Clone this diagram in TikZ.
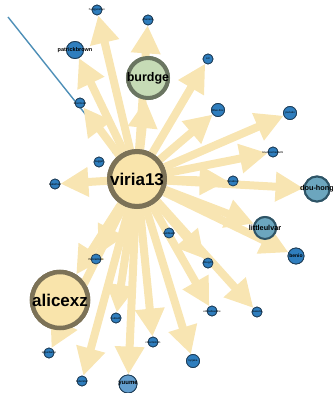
\documentclass[tikz,border=0pt]{standalone}
\usepackage{fontspec}
\setmainfont{Liberation Sans}
\usetikzlibrary{arrows.meta}

\definecolor{edgeyellow}{HTML}{F8E5B2}
\definecolor{hubfill}{HTML}{F9E4AB}
\definecolor{hubrim}{HTML}{7C7257}
\definecolor{greenfill}{HTML}{C6DBB6}
\definecolor{greenrim}{HTML}{6A7561}
\definecolor{tealfill}{HTML}{6CA6BE}
\definecolor{tealrim}{HTML}{2E5466}
\definecolor{nodeblue}{HTML}{2F7EBE}
\definecolor{noderim}{HTML}{1F3E58}
\definecolor{linkblue}{HTML}{4E8FB7}

% labels never widen the circles
\newcommand{\nlabel}[1]{\makebox[0pt]{#1}}

\tikzset{
  yedge/.style={draw=edgeyellow, line width=8pt,
    -{Triangle[length=28pt,width=28pt]}},
  hub/.style={circle, inner sep=0pt, fill=hubfill, draw=hubrim,
    font=\bfseries\fontsize{17}{17}\selectfont},
  greennode/.style={circle, inner sep=0pt, fill=greenfill, draw=greenrim,
    line width=4pt, minimum size=40pt,
    font=\bfseries\fontsize{12.5}{12.5}\selectfont},
  dot/.style={circle, inner sep=0pt, fill=nodeblue, draw=noderim,
    line width=0.8pt, minimum size=10pt,
    font=\fontsize{2.8}{3}\selectfont},
  tealnode/.style={circle, inner sep=0pt, fill=tealfill, draw=tealrim,
    line width=2pt, font=\bfseries\fontsize{7.3}{7.3}\selectfont},
}

\begin{document}
\begin{tikzpicture}[x=1pt,y=-1pt]
\useasboundingbox (0,0) rectangle (332,393);

% central hub
\node[hub, line width=5pt, minimum size=55pt] (v) at (137,179) {};

% the outer nodes
\node[dot] (a1)  at (97,10)  {};
\node[dot] (a2)  at (148,20) {};
\node[dot, minimum size=17pt] (pb) at (75,50) {};
\node[greennode] (bu) at (148,78) {};
\node[dot] (a4)  at (80,103) {};
\node[dot] (a5)  at (99,162) {};
\node[dot] (a6)  at (55,184) {};
\node[dot] (a7)  at (208,59) {};
\node[dot, minimum size=13pt] (a8)  at (218,110) {};
\node[dot, minimum size=13pt] (a9)  at (290,113) {};
\node[dot] (a10) at (273,152) {};
\node[dot] (a11) at (233,181) {};
\node[tealnode, minimum size=25pt] (dh) at (317,189) {};
\node[tealnode, minimum size=22pt] (lu) at (265,228) {};
\node[dot, minimum size=16pt] (be) at (296,256) {};
\node[dot] (a12) at (169,233) {};
\node[dot] (a13) at (96,259) {};
\node[dot] (a14) at (208,263) {};
\node[dot] (a15) at (212,311) {};
\node[dot] (a16) at (257,312) {};
\node[dot, minimum size=13pt] (a17) at (193,361) {};
\node[dot] (a18) at (153,342) {};
\node[dot] (a19) at (116,318) {};
\node[dot, minimum size=18pt, fill=nodeblue!75!white] (yu) at (128,384) {};
\node[dot] (a20) at (82,381) {};
\node[dot] (a21) at (49,353) {};
\node[hub, line width=4.5pt, minimum size=56pt] (ax) at (60,300) {};

% incoming link from outside
\coordinate (src) at (8,17);
\draw[linkblue, line width=1.4pt, -{Triangle[length=6pt,width=6pt]}] (src) -- (v);

% outgoing edges of the hub
\foreach \t in {a1,a2,pb,bu,a4,a6,a7,a8,a9,a10,a11,dh,lu,be,a13,a14,a15,a16,a17,a18,a19,yu,a20,a21,ax}
  \draw[yedge] (v) -- (\t);

% redraw nodes above the edges
\node[hub, line width=5pt, minimum size=55pt] at (v) {\nlabel{viria13}};
\node[hub, line width=4.5pt, minimum size=56pt] at (ax) {\nlabel{alicexz}};
\node[greennode] at (bu) {\nlabel{burdge}};
\node[dot] at (a1)  {\nlabel{hengjunshen}};
\node[dot] at (a2)  {\nlabel{dhanesh}};
\node[dot, minimum size=17pt, font=\bfseries\fontsize{5.5}{5.5}\selectfont] at (pb) {\nlabel{patrickbrown}};
\node[dot] at (a4)  {\nlabel{bloomstar}};
\node[dot] at (a5)  {\nlabel{zagget}};
\node[dot] at (a6)  {\nlabel{isabelhan}};
\node[dot] at (a7)  {\nlabel{szr}};
\node[dot, minimum size=13pt] at (a8)  {\nlabel{Blue-Fox}};
\node[dot, minimum size=13pt] at (a9)  {\nlabel{jcarvalo}};
\node[dot] at (a10) {\nlabel{blueboxmedia99}};
\node[dot] at (a11) {\nlabel{fanaticus}};
\node[tealnode, minimum size=25pt] at (dh) {\nlabel{dou-hong}};
\node[tealnode, minimum size=22pt] at (lu) {\nlabel{littleulvar}};
\node[dot, minimum size=16pt, font=\bfseries\fontsize{5}{5}\selectfont] at (be) {\nlabel{benio}};
\node[dot] at (a12) {\nlabel{cambiator}};
\node[dot] at (a13) {\nlabel{thebrainlabs}};
\node[dot] at (a14) {\nlabel{doug-fit}};
\node[dot] at (a15) {\nlabel{emiliedaudine}};
\node[dot] at (a16) {\nlabel{nuwana}};
\node[dot, minimum size=13pt] at (a17) {\nlabel{kyrjaka}};
\node[dot] at (a18) {\nlabel{robertsimon}};
\node[dot] at (a19) {\nlabel{kubard}};
\node[dot, minimum size=18pt, fill=nodeblue!75!white,
      font=\bfseries\fontsize{6}{6}\selectfont] at (yu) {\nlabel{yuume}};
\node[dot] at (a20) {\nlabel{tuberstar}};
\node[dot] at (a21) {\nlabel{stigurdanvo}};
\end{tikzpicture}
\end{document}
